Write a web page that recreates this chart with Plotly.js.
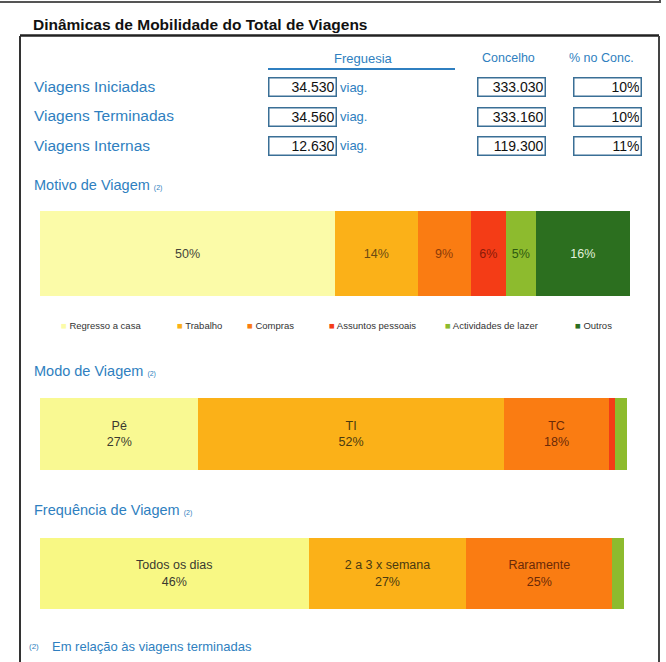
<!DOCTYPE html>
<html><head><meta charset="utf-8">
<script src="https://cdn.plot.ly/plotly-3.0.1.min.js"></script>
<style>html,body{margin:0;padding:0;background:#fff;}#chart{width:666px;height:662px;}</style>
</head><body><div id="chart"></div>
<script>
// ---------- data ----------
const chartTitle = 'Dinâmicas de Mobilidade do Total de Viagens';
const tableHeaders = ['Freguesia', 'Concelho', '% no Conc.'];
const tableRows = ['Viagens Iniciadas', 'Viagens Terminadas', 'Viagens Internas'];
const freguesiaVals = [34530, 34560, 12630];
const concelhoVals = [333030, 333160, 119300];
const pctConcelho = [10, 10, 11];
const unitLabel = 'viag.';

const motivoTitle = 'Motivo de Viagem';
const motivoLabels = ['Regresso a casa', 'Trabalho', 'Compras', 'Assuntos pessoais', 'Actividades de lazer', 'Outros'];
const motivoValues = [50, 14, 9, 6, 5, 16];

const modoTitle = 'Modo de Viagem';
const modoLabels = ['Pé', 'TI', 'TC', '', ''];
const modoValues = [27, 52, 18, 1, 2];

const freqTitle = 'Frequência de Viagem';
const freqLabels = ['Todos os dias', '2 a 3 x semana', 'Raramente', ''];
const freqValues = [46, 27, 25, 2];

const noteMark = '(2)';
const footnote = 'Em relação às viagens terminadas';

// ---------- styles ----------
const W = 666, H = 662;
const X = p => p / W, Y = p => 1 - p / H;
const FONT = '"Liberation Sans", Arial, sans-serif';
const BLUE = '#2f7fc0';
const YEL = '#fbfba8', YEL2 = '#f9f992', YEL3 = '#f8f884';
const ORG1 = '#fbb118', ORG2 = '#fa7c12', RED = '#f43c16', LGRN = '#8dbb2e', DGRN = '#2c6f1f';
const motivoColors = [YEL, ORG1, ORG2, RED, LGRN, DGRN];
const motivoText = ['#45453a', '#6b4a12', '#8c3a08', '#8a1a08', '#2d5a10', '#e2efdc'];
const modoColors = [YEL2, ORG1, ORG2, RED, LGRN];
const modoText = ['#3a3a30', '#4a3a10', '#6a2a08', '#333', '#333'];
const freqColors = [YEL3, ORG1, ORG2, LGRN];
const freqText = ['#3a3a30', '#4a3a10', '#6a2a08', '#333'];

const fmt = n => String(n).replace(/\B(?=(\d{3})+(?!\d))/g, '.');

const traces = [];
function addBar(labels, values, colors, tcolors, ax, textFn) {
  labels.forEach((lab, i) => {
    traces.push({
      type: 'bar', orientation: 'h', name: lab || ('—' + i),
      x: [values[i]], y: [0], width: [1],
      xaxis: 'x' + ax, yaxis: 'y' + ax,
      marker: {color: colors[i], line: {width: 0}},
      text: [textFn(lab, values[i])],
      textposition: 'inside', insidetextanchor: 'middle', textangle: 0,
      textfont: {family: FONT, size: 12.5, color: tcolors[i]},
      hoverinfo: 'skip', showlegend: false
    });
  });
}
addBar(motivoLabels, motivoValues, motivoColors, motivoText, '', (l, v) => v + '%');
addBar(modoLabels, modoValues, modoColors, modoText, '2', (l, v) => l ? l + '<br>' + v + '%' : '');
addBar(freqLabels, freqValues, freqColors, freqText, '3', (l, v) => l ? l + '<br>' + v + '%' : '');

function xa(x0, x1) { return {domain: [X(x0), X(x1)], range: [0, 100], visible: false, fixedrange: true}; }
function ya(y0, y1, anchor) { return {domain: [Y(y1), Y(y0)], range: [-0.5, 0.5], visible: false, fixedrange: true, anchor: anchor}; }

const ann = [];
function txt(text, x, y, opts) {
  ann.push(Object.assign({text: text, x: X(x), y: Y(y), xref: 'paper', yref: 'paper',
    xanchor: 'left', yanchor: 'middle', showarrow: false,
    font: {family: FONT, size: 14, color: BLUE}}, opts || {}));
}
// title
txt(chartTitle, 31, 25, {font: {family: FONT, size: 15.5, color: '#111', weight: 'bold'}});
// headers
txt(tableHeaders[0], 363, 58, {xanchor: 'center', font: {family: FONT, size: 13, color: BLUE}});
txt(tableHeaders[1], 508, 58, {xanchor: 'center', font: {family: FONT, size: 12.5, color: BLUE}});
txt(tableHeaders[2], 601, 58, {xanchor: 'center', font: {family: FONT, size: 12.5, color: BLUE}});
const rowY = [87.5, 116.5, 145.5];
function box(val, x, y) {
  ann.push({text: val, x: X(x), y: Y(y), xref: 'paper', yref: 'paper', xanchor: 'left', yanchor: 'middle',
    showarrow: false, width: 64, height: 15, align: 'right', valign: 'middle',
    bordercolor: '#3a6f96', borderwidth: 1.5, borderpad: 1,
    font: {family: FONT, size: 14, color: '#111'}});
}
tableRows.forEach((r, i) => {
  txt(r, 32, rowY[i] - 0.5, {font: {family: FONT, size: 15.5, color: BLUE}});
  box(fmt(freguesiaVals[i]), 268, rowY[i]);
  txt(unitLabel, 338, rowY[i], {font: {family: FONT, size: 13, color: BLUE}});
  box(fmt(concelhoVals[i]), 477, rowY[i]);
  box(pctConcelho[i] + '%', 573, rowY[i]);
});
const small = s => ' <span style="font-size:7px">' + s + '</span>';
txt(motivoTitle + small(noteMark), 32, 185, {font: {family: FONT, size: 14.5, color: BLUE}});
txt(modoTitle + small(noteMark), 32, 371, {font: {family: FONT, size: 14.5, color: BLUE}});
txt(freqTitle + small(noteMark), 32, 510, {font: {family: FONT, size: 14.5, color: BLUE}});
// legend for motivo
const legX = [59, 175, 245, 327, 443, 573];
motivoLabels.forEach((l, i) => {
  txt('<span style="color:' + motivoColors[i] + '">■</span> ' + l, legX[i], 325,
    {font: {family: FONT, size: 9.5, color: '#333'}});
});
// footnote
txt(noteMark, 27, 646, {font: {family: FONT, size: 8, color: BLUE}});
txt(footnote, 50, 646, {font: {family: FONT, size: 13, color: BLUE}});

const ln = (x0, y0, x1, y1, c, w) => ({type: 'line', xref: 'paper', yref: 'paper',
  x0: X(x0), y0: Y(y0), x1: X(x1), y1: Y(y1), line: {color: c, width: w}});
const shapes = [
  ln(0, 2, 660, 2, '#555', 2),
  ln(660, 0, 660, 3, '#555', 2),
  ln(20, 35.5, 659, 35.5, '#222', 2.5),
  ln(20, 36, 20, 670, '#333', 2),
  ln(659, 36, 659, 670, '#444', 2),
  ln(268, 69, 455, 69, BLUE, 2)
];

const layout = {
  width: W, height: H, margin: {l: 0, r: 0, t: 0, b: 0},
  paper_bgcolor: '#fff', plot_bgcolor: 'rgba(0,0,0,0)',
  barmode: 'stack', bargap: 0, showlegend: false,
  uniformtext: {mode: 'show', minsize: 10},
  xaxis: Object.assign(xa(40, 630), {anchor: 'y'}), yaxis: ya(211, 296, 'x'),
  xaxis2: Object.assign(xa(40, 627), {anchor: 'y2'}), yaxis2: ya(398, 470, 'x2'),
  xaxis3: Object.assign(xa(40, 624), {anchor: 'y3'}), yaxis3: ya(538, 609, 'x3'),
  annotations: ann, shapes: shapes
};
Plotly.newPlot('chart', traces, layout, {displayModeBar: false, staticPlot: true});
</script></body></html>
